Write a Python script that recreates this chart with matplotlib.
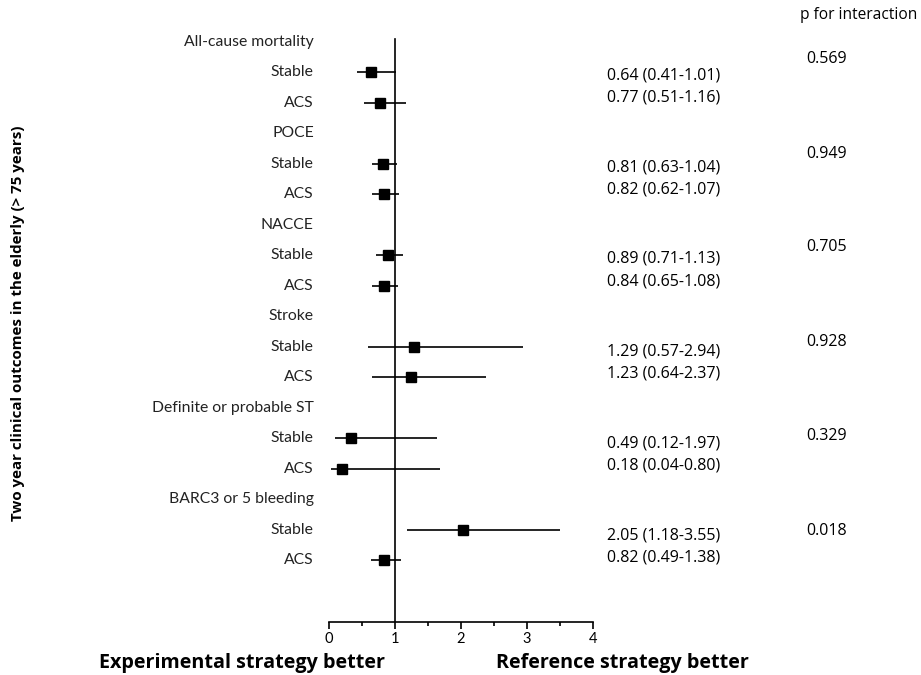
import matplotlib.pyplot as plt
import numpy as np

# outcomes and subgroup estimates (read from the plotted marks)
outcomes = ['All-cause mortality', 'POCE', 'NACCE', 'Stroke',
            'Definite or probable ST', 'BARC3 or 5 bleeding']
subgroups = ['Stable', 'ACS']
est = [[0.64, 0.77], [0.82, 0.83], [0.89, 0.83], [1.29, 1.24], [0.33, 0.19], [2.03, 0.83]]
lo = [[0.42, 0.53], [0.65, 0.65], [0.71, 0.65], [0.59, 0.65], [0.09, 0.03], [1.18, 0.64]]
hi = [[1.01, 1.17], [1.03, 1.06], [1.12, 1.05], [2.94, 2.38], [1.64, 1.68], [3.50, 1.09]]

# text columns on the right
or_text = [['0.64 (0.41-1.01)', '0.77 (0.51-1.16)'],
           ['0.81 (0.63-1.04)', '0.82 (0.62-1.07)'],
           ['0.89 (0.71-1.13)', '0.84 (0.65-1.08)'],
           ['1.29 (0.57-2.94)', '1.23 (0.64-2.37)'],
           ['0.49 (0.12-1.97)', '0.18 (0.04-0.80)'],
           ['2.05 (1.18-3.55)', '0.82 (0.49-1.38)']]
p_int = ['0.569', '0.949', '0.705', '0.928', '0.329', '0.018']

W, H = 921, 675
fig = plt.figure(figsize=(W / 100, H / 100), dpi=100)

# axes: x 0..4 maps to px 329..593, bottom at px 622
ax = fig.add_axes([329 / W, 1 - 622 / H, 264 / W, (622 - 30) / H])
row_px = 30.47
ax.set_xlim(0, 4)
ax.set_ylim((622 - 42) / row_px, (30 - 42) / row_px)

for s in ['top', 'right', 'left']:
    ax.spines[s].set_visible(False)
ax.spines['bottom'].set_linewidth(1.2)
ax.set_yticks([])
ax.set_xticks([0, 1, 2, 3, 4])
ax.set_xticks(np.arange(0.5, 4, 1), minor=True)
ax.tick_params(axis='x', which='major', length=5, width=1.2, labelsize=10.5, pad=2)
ax.tick_params(axis='x', which='minor', length=3, width=1.2)
for lab in ax.get_xticklabels():
    lab.set_family('Lato')

ax.axvline(1, ymin=0, ymax=1 - (39 - 30) / (622 - 30), color='black', lw=1.2)

for k, name in enumerate(outcomes):
    r0 = 3 * k
    ax.text(-0.23, r0, name, ha='right', va='center', fontsize=11.3,
            family='Lato', color='#222222', clip_on=False)
    for j, sg in enumerate(subgroups):
        r = r0 + 1 + j
        ax.text(-0.23, r, sg, ha='right', va='center', fontsize=11.3,
                family='Lato', color='#222222', clip_on=False)
        ax.plot([lo[k][j], hi[k][j]], [r, r], color='black', lw=1.2,
                solid_capstyle='butt')
        ax.plot(est[k][j], r, marker='s', ms=7.5, color='black')

# right-hand text columns
est_y_px = [75, 167, 259, 352, 443, 535]
p_y_px = [59, 154, 247, 342, 436, 531]
for k in range(len(outcomes)):
    for j in range(2):
        fig.text(607 / W, 1 - (est_y_px[k] + 22 * j) / H, or_text[k][j],
                 ha='left', va='center', fontsize=11.5, family='Open Sans')
    fig.text(806 / W, 1 - p_y_px[k] / H, p_int[k], ha='left', va='center',
             fontsize=11.5, family='Open Sans')
fig.text(800 / W, 1 - 15 / H, 'p for interaction', ha='left', va='center',
         fontsize=11.2, family='Open Sans')

fig.text(242 / W, 1 - 663 / H, 'Experimental strategy better', ha='center',
         va='center', fontsize=14.2, fontweight='bold', family='Open Sans')
fig.text(622 / W, 1 - 663 / H, 'Reference strategy better', ha='center',
         va='center', fontsize=14.2, fontweight='bold', family='Open Sans')
fig.text(18 / W, 1 - 323 / H, 'Two year clinical outcomes in the elderly (> 75 years)',
         rotation=90, ha='center', va='center', fontsize=10.9, fontweight='bold',
         family='Open Sans')

fig.savefig('out.png', dpi=100)
